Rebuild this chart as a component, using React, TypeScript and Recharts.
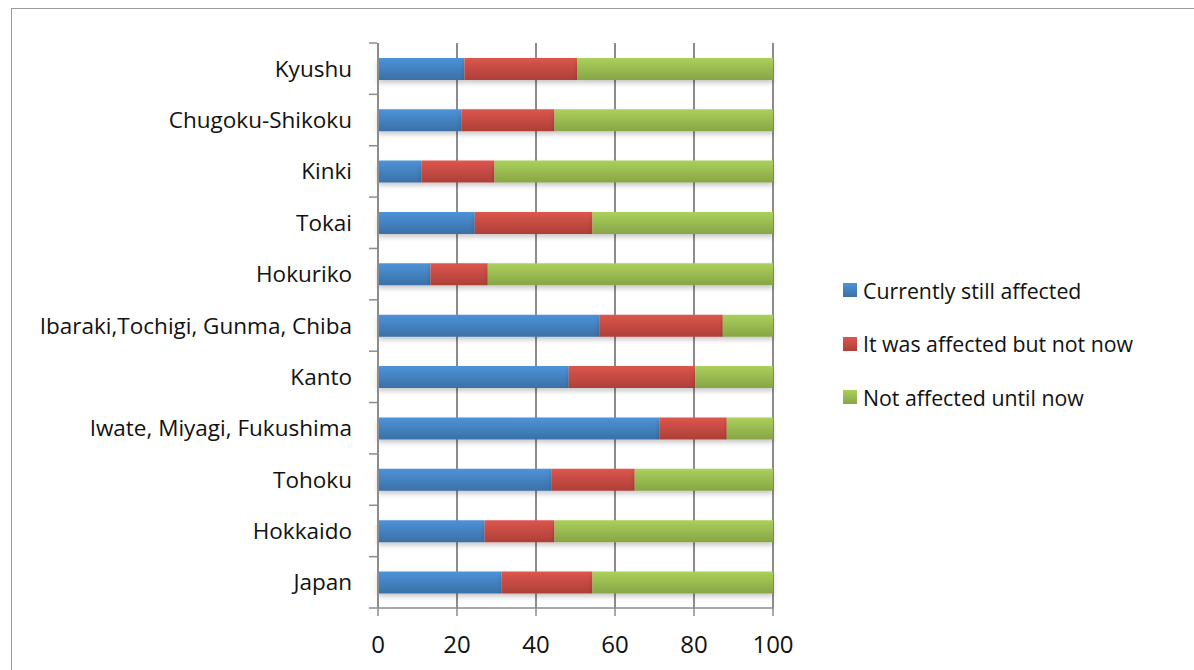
import { BarChart, Bar, XAxis, YAxis, CartesianGrid } from 'recharts'

const regions = [
  'Kyushu',
  'Chugoku-Shikoku',
  'Kinki',
  'Tokai',
  'Hokuriko',
  'Ibaraki,Tochigi, Gunma, Chiba',
  'Kanto',
  'Iwate, Miyagi, Fukushima',
  'Tohoku',
  'Hokkaido',
  'Japan',
]
const stillAffected = [21.9, 21.1, 11.0, 24.5, 13.3, 56.0, 48.3, 71.2, 44.0, 27.0, 31.3]
const affectedBefore = [28.6, 23.6, 18.5, 29.8, 14.5, 31.3, 32.0, 17.1, 21.0, 17.7, 23.0]
const notAffected = [49.5, 55.3, 70.5, 45.7, 72.2, 12.7, 19.7, 11.7, 35.0, 55.3, 45.7]
const xTicks = [0, 20, 40, 60, 80, 100]

const series = [
  { key: 'still', name: 'Currently still affected', grad: 'gBlue', top: '#4d93d9', bottom: '#3a70a6' },
  { key: 'before', name: 'It was affected but not now', grad: 'gRed', top: '#dc564d', bottom: '#ad3f38' },
  { key: 'never', name: 'Not affected until now', grad: 'gGreen', top: '#abd05c', bottom: '#87a545' },
]

const data = regions.map((r, i) => ({
  region: r,
  still: stillAffected[i],
  before: affectedBefore[i],
  never: notAffected[i],
}))

const W = 1194
const H = 670
const TOP = 43
const BOTTOM = 608
const X_AXIS_H = 30
const band = (BOTTOM - TOP) / regions.length
const font = '"Open Sans", Lato, sans-serif'
const axisGray = '#8c8c8c'

function RegionTick(props: any) {
  const { x, y, payload, index } = props
  return (
    <g>
      <line x1={x - 1} x2={x + 7} y1={y - band / 2} y2={y - band / 2} stroke={axisGray} strokeWidth={1.5} />
      {index === regions.length - 1 && (
        <line x1={x - 1} x2={x + 7} y1={y + band / 2} y2={y + band / 2} stroke={axisGray} strokeWidth={1.5} />
      )}
      <text x={x - 18} y={y} dy={8} textAnchor="end" fill="#111" fontSize={22.5} fontFamily={font}>
        {payload.value}
      </text>
    </g>
  )
}

export default function App() {
  return (
    <div style={{ position: 'relative', width: W, height: H, background: '#fff', overflow: 'hidden' }}>
      <style>{`body{margin:0}`}</style>
      <div
        style={{
          position: 'absolute',
          left: 11,
          top: 8,
          width: W,
          height: H,
          border: '1.5px solid #9a9a9a',
          boxSizing: 'border-box',
        }}
      />
      <BarChart
        width={W}
        height={H}
        data={data}
        layout="vertical"
        barCategoryGap="29%"
        margin={{ top: TOP, right: W - 773, bottom: H - BOTTOM - X_AXIS_H, left: 0 }}
        style={{ position: 'absolute', left: 0, top: 0 }}
      >
        <defs>
          {series.map((s) => (
            <linearGradient key={s.grad} id={s.grad} x1="0" y1="0" x2="0" y2="1">
              <stop offset="0%" stopColor={s.top} />
              <stop offset="100%" stopColor={s.bottom} />
            </linearGradient>
          ))}
          <filter id="shadow" x="-5%" y="-20%" width="110%" height="160%">
            <feDropShadow dx="0" dy="3" stdDeviation="2.5" floodColor="#000" floodOpacity="0.22" />
          </filter>
        </defs>
        <CartesianGrid horizontal={false} stroke={axisGray} strokeWidth={2} />
        <XAxis
          type="number"
          domain={[0, 100]}
          ticks={xTicks}
          height={X_AXIS_H}
          axisLine={{ stroke: axisGray, strokeWidth: 1.5 }}
          tickLine={{ stroke: axisGray, strokeWidth: 1.5 }}
          tickSize={8}
          tick={{ fill: '#111', fontSize: 24, fontFamily: font, dy: 18 }}
        />
        <YAxis
          type="category"
          dataKey="region"
          width={378}
          axisLine={{ stroke: axisGray, strokeWidth: 2 }}
          tickLine={false}
          interval={0}
          tick={<RegionTick />}
        />
        {series.map((s) => (
          <Bar
            key={s.key}
            dataKey={s.key}
            name={s.name}
            stackId="a"
            fill={`url(#${s.grad})`}
            filter="url(#shadow)"
            isAnimationActive={false}
          />
        ))}
      </BarChart>
      <div style={{ position: 'absolute', left: 843, top: 276, fontFamily: font, fontSize: 21.3, color: '#111' }}>
        {series.map((s) => (
          <div key={s.key} style={{ display: 'flex', alignItems: 'center', height: 28, marginBottom: 25.5 }}>
            <span
              style={{
                display: 'inline-block',
                width: 14,
                height: 14,
                marginRight: 6,
                background: `linear-gradient(${s.top}, ${s.bottom})`,
              }}
            />
            {s.name}
          </div>
        ))}
      </div>
    </div>
  )
}
